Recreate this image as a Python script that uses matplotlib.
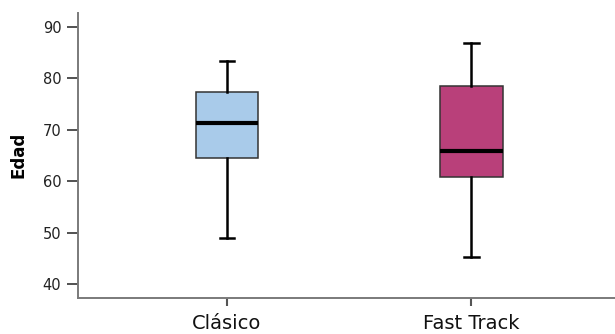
import matplotlib
matplotlib.use("Agg")
import matplotlib.pyplot as plt

# Age summary per surgical pathway
groups = ["Clásico", "Fast Track"]
whisker_low = [48.9, 45.3]
q1 = [64.5, 60.9]
medians = [71.4, 65.8]
q3 = [77.4, 78.5]
whisker_high = [83.4, 86.9]
fill_colors = ["#a9cbea", "#b9407a"]
y_ticks = [40, 50, 60, 70, 80, 90]

plt.rcParams["font.family"] = ["DejaVu Sans"]

fig = plt.figure(figsize=(6.15, 3.34), dpi=100)
ax = fig.add_axes([0.1268, 0.109, 0.8732, 0.852])

stats = []
for i, name in enumerate(groups):
    stats.append({
        "label": name,
        "whislo": whisker_low[i],
        "q1": q1[i],
        "med": medians[i],
        "q3": q3[i],
        "whishi": whisker_high[i],
        "fliers": [],
    })

positions = [1, 2]
bp = ax.bxp(
    stats,
    positions=positions,
    widths=0.254,
    patch_artist=True,
    showfliers=False,
    boxprops=dict(edgecolor="#333333", linewidth=1.1),
    medianprops=dict(color="black", linewidth=3.0, solid_capstyle="butt"),
    whiskerprops=dict(color="black", linewidth=1.8),
    capprops=dict(color="black", linewidth=1.8),
    capwidths=0.06,
)
for patch, c in zip(bp["boxes"], fill_colors):
    patch.set_facecolor(c)

ax.set_xlim(0.391, 2.587)
ax.set_ylim(37.37, 92.72)
ax.set_yticks(y_ticks)
ax.set_xticks(positions)
ax.set_xticklabels(groups, fontsize=14, color="#111111")
ax.tick_params(axis="y", labelsize=10.5, length=8, width=1.2, color="#333333",
               pad=4, labelcolor="#222222")
ax.tick_params(axis="x", length=5.5, width=1.5, color="#555555", pad=6)

for side in ["top", "right"]:
    ax.spines[side].set_visible(False)
for side in ["left", "bottom"]:
    ax.spines[side].set_color("#7a7a7a")
    ax.spines[side].set_linewidth(1.4)

ax.set_ylabel("Edad", fontsize=12, fontweight="bold", labelpad=11)

fig.savefig("out.png", dpi=100)
